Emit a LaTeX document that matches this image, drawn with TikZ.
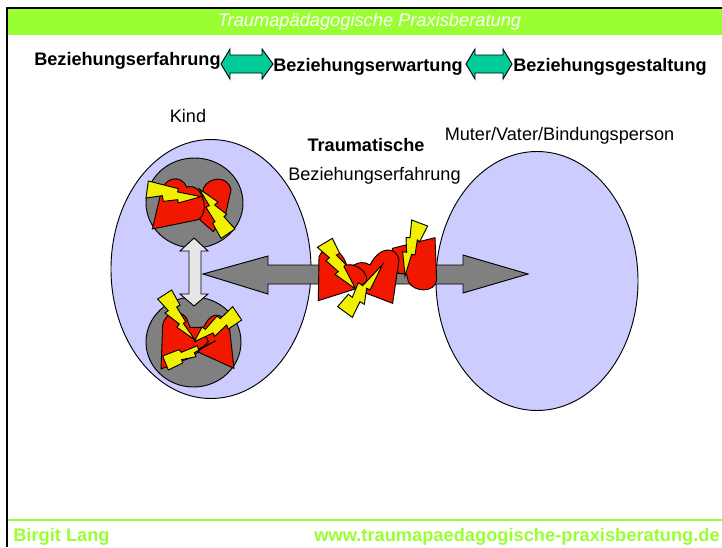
\documentclass[tikz,border=0pt]{standalone}
\usepackage{fontspec}
\setmainfont{Liberation Sans}
\definecolor{lime}{HTML}{99FF33}
\definecolor{lilac}{HTML}{CCCCFF}
\definecolor{heartred}{HTML}{F21800}
\definecolor{bolt}{HTML}{F0F000}
\definecolor{arrowgrey}{HTML}{808080}
\definecolor{mint}{HTML}{00CC99}
\definecolor{pale}{HTML}{E6E6E6}
\tikzset{
  shp/.style={draw=black,line width=.7pt,line join=miter},
  redp/.style={shp,fill=heartred},
  boltp/.style={shp,fill=bolt},
  lbl/.style={font=\fontsize{13.6}{16}\selectfont,inner sep=0pt},
  blbl/.style={font=\fontsize{13.6}{16}\selectfont\bfseries,inner sep=0pt},
}
\begin{document}
\begin{tikzpicture}[x=.75pt,y=-.75pt]
\useasboundingbox (0,0) rectangle (722,547);
\fill[white] (0,0) rectangle (722,547);
% frame
\fill[lime] (7,8) rectangle (722,35);
\draw[line width=1.5pt] (7,547) -- (7,7.5) -- (722,7.5);
\draw[lime,line width=.8pt] (8,520) -- (722,520);
\node[lbl,text=white,font=\fontsize{13.7}{16}\selectfont\itshape] (title) at (369.5,21.5) {Traumapädagogische Praxisberatung};
% row
\node[blbl,anchor=west] (r1) at (34,60.5) {Beziehungserfahrung};
\node[blbl,anchor=west] (r2) at (273,66.5) {Beziehungserwartung};
\node[blbl,anchor=west] (r3) at (513,66.5) {Beziehungsgestaltung};
\draw[shp,fill=mint] (221,64) -- (230,49) -- (230,55) -- (262,55) -- (262,49) -- (273,64) -- (262,79) -- (262,73) -- (230,73) -- (230,79) -- cycle;
\draw[shp,fill=mint] (466,64) -- (475,49) -- (475,55) -- (503,55) -- (503,49) -- (512,64) -- (503,79) -- (503,73) -- (475,73) -- (475,79) -- cycle;
% ellipses
\draw[shp,fill=lilac] (211,269) ellipse [x radius=100,y radius=129.5];
\draw[shp,fill=lilac] (537,281) ellipse [x radius=101,y radius=129.5];
\node[lbl] (kind) at (188,116.5) {Kind};
\node[blbl] (tr) at (366,145.5) {Traumatische};
\node[lbl] (be) at (374.5,176) {Beziehungserfahrung};
\node[lbl] (mv) at (559.5,135.5) {Muter/Vater/Bindungsperson};
% big grey arrow
\draw[shp,fill=arrowgrey] (203,274) -- (268,256) -- (268,265) -- (463,265) -- (463,255) -- (528,274) -- (463,293) -- (463,284) -- (268,284) -- (268,294) -- cycle;
% circles
\draw[shp,fill=arrowgrey] (194.5,203) ellipse [x radius=48.5,y radius=45];
\draw[shp,fill=arrowgrey] (193.5,342) ellipse [x radius=47.5,y radius=45];
% white double arrow
\draw[shp,fill=pale] (194,238) -- (208,251) -- (201,251) -- (201,294) -- (208,294) -- (194,306) -- (180,294) -- (189,294) -- (189,251) -- (180,251) -- cycle;
% top hearts
\begin{scope}[shift={(145,170)},x=.25pt,y=-.25pt]
\draw[redp] (175,55) .. controls (190,20) and (250,15) .. (258,60) -- (240,140) -- (205,185) -- (165,150) -- cycle;
\draw[redp] (22,177) -- (45,80) .. controls (50,20) and (110,10) .. (125,52) .. controls (145,42) and (175,60) .. (178,110) .. controls (178,135) and (165,150) .. (155,150) -- cycle;
\draw[boltp] (10,33) -- (100,56) -- (98,66) -- (168,80) -- (100,99) -- (98,89) -- (55,94) -- (52,77) -- (3,84) -- cycle;
\draw[boltp] (163,57) -- (219,96) -- (209,105) -- (245,133) -- (237,140) -- (270,177) -- (228,205) -- (203,160) -- (210,155) -- (183,112) -- (193,107) -- cycle;
\end{scope}
% bottom hearts
\begin{scope}[shift={(150,285)},x=.25pt,y=-.25pt]
\draw[redp] (252,250) -- (238,125) .. controls (222,85) and (185,75) .. (165,120) -- (120,190) -- cycle;
\draw[redp] (33,252) -- (38,120) .. controls (45,85) and (85,65) .. (110,100) -- (120,127) -- (155,127) -- (175,170) -- (130,215) -- cycle;
\draw[boltp] (23,42) -- (65,15) -- (90,60) -- (80,66) -- (107,110) -- (100,115) -- (135,165) -- (81,127) -- (88,117) -- (45,84) -- (55,77) -- cycle;
\draw[boltp] (248,65) -- (275,105) -- (235,132) -- (230,120) -- (194,154) -- (189,144) -- (133,170) -- (156,126) -- (166,133) -- (201,93) -- (211,101) -- cycle;
\draw[boltp] (198,167) -- (145,192) -- (142,182) -- (94,202) -- (87,194) -- (38,213) -- (55,255) -- (98,234) -- (95,224) -- (138,215) -- (133,203) -- cycle;
\end{scope}
% central hearts
\begin{scope}[shift={(315,215)},x=.25pt,y=-.25pt]
\draw[redp] (232,100) -- (360,68) -- (365,195) .. controls (360,235) and (295,232) .. (280,200) -- (275,178) -- (250,175) -- cycle;
\draw[redp] (233,265) -- (252,135) .. controls (245,95) and (195,90) .. (165,150) .. controls (150,138) and (125,143) .. (118,150) -- (120,222) -- cycle;
\draw[redp] (10,257) -- (12,125) .. controls (25,90) and (75,90) .. (95,150) .. controls (130,145) and (160,175) .. (155,200) -- (120,222) -- cycle;
\draw[boltp] (7,97) -- (52,70) -- (74,115) -- (64,120) -- (92,148) -- (87,155) -- (122,222) -- (60,178) -- (70,170) -- (33,137) -- (43,128) -- cycle;
\draw[boltp] (203,148) -- (165,225) -- (155,220) -- (148,268) -- (135,260) -- (112,307) -- (68,275) -- (100,238) -- (112,247) -- (130,203) -- (143,212) -- cycle;
\draw[boltp] (290,15) -- (338,33) -- (314,80) -- (307,75) -- (300,120) -- (290,118) -- (270,183) -- (263,110) -- (275,112) -- (273,68) -- (285,68) -- cycle;
\end{scope}
% footer
\node[anchor=west,inner sep=0pt,text=lime,font=\fontsize{13.7}{16}\selectfont\bfseries] (f1) at (13,537) {Birgit Lang};
\node[anchor=east,inner sep=0pt,text=lime,font=\fontsize{13.7}{16}\selectfont\bfseries] (f2) at (720,537) {www.traumapaedagogische-praxisberatung.de};
\end{tikzpicture}
\end{document}
